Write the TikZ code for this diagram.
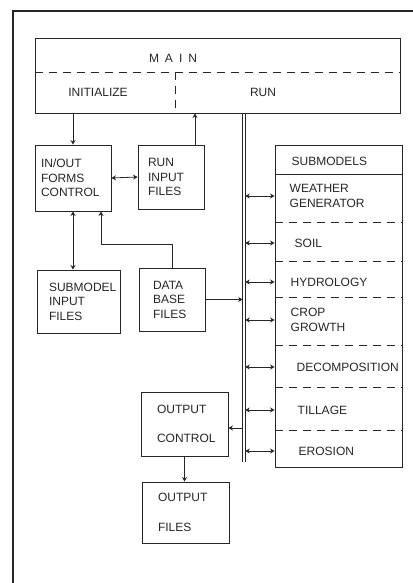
\documentclass[tikz,border=0pt]{standalone}
\usepackage{fontspec}
\setmainfont{Liberation Sans}
\usetikzlibrary{arrows.meta}

\begin{document}
\begin{tikzpicture}[x=1pt, y=-1pt, font=\fontsize{12}{14.5}\selectfont, color=black!85,
  box/.style={draw, line width=0.9pt, align=left, inner xsep=#1, minimum height=64pt, text width=56pt},
  box/.default=8pt, item/.style={anchor=west, align=left},
  sep/.style={dashed, dash pattern=on 8pt off 6pt, line width=0.8pt},
  >={Stealth[length=4.5pt, width=5pt]}, line width=0.8pt]
\useasboundingbox (0,0) rectangle (412,583);
\draw[line width=2.5pt] (13,590) -- (13,11) -- (420,11);
% main program
\node[draw, line width=0.9pt, minimum width=365pt, minimum height=75pt] (main) at (217.5,75.5) {};
\node (mainlbl) at (173,58) {M\hspace{6pt}A\hspace{6pt}I\hspace{6pt}N};
\node (init) at (98,92) {INITIALIZE};
\node (run) at (263,92) {RUN};
\coordinate (split) at (175,72);
\draw[sep] (split -| main.west) -- (split -| main.east);
\draw[sep] (split) -- (split |- main.south);
% files and control boxes
\node[box=6pt, text width=64pt, minimum height=66pt] (inout) at (73,178) {IN/OUT\\FORMS\\CONTROL};
\node[box=10pt, text width=46pt] (runinput) at (171,177) {RUN\\INPUT\\FILES};
\node[box=12pt, text width=59pt, minimum height=63pt] (subinput) at (78.5,301.5) {SUBMODEL\\INPUT\\FILES};
\node[box=14pt, text width=38pt, minimum height=63pt] (database) at (172,299.5) {DATA\\BASE\\FILES};
\node[box=16pt, text width=55pt] (outctrl) at (184.5,424) {OUTPUT\\[15pt]CONTROL};
\node[box=16pt, text width=55pt, minimum height=61pt] (outfiles) at (185.5,512.5) {OUTPUT\\[15pt]FILES};
% submodels
\node[draw, line width=0.9pt, minimum width=127pt, minimum height=322pt] (submodels) at (338.5,306) {};
\node[item] (sublbl) at (288,161) {SUBMODELS};
\draw[line width=0.9pt] (submodels.west |- 0,174) -- (submodels.east |- 0,174);
\foreach \y in {222,261,297,345,387,430}
  \draw[sep] (submodels.west |- 0,\y) -- (submodels.east |- 0,\y);
\node[item] (weather) at (286,196) {WEATHER\\GENERATOR};
\node[item] (soil) at (291,243) {SOIL};
\node[item] (hydro) at (287,282) {HYDROLOGY};
\node[item] (crop) at (287,320) {CROP\\GROWTH};
\node[item] (decomp) at (293,367) {DECOMPOSITION};
\node[item] (tillage) at (294,410) {TILLAGE};
\node[item] (erosion) at (295,451) {EROSION};
% bus
\coordinate (bus) at (244,113);
\coordinate (busend) at (244,462);
\draw ([xshift=-1.3pt]bus) -- ([xshift=-1.3pt]busend);
\draw ([xshift=1.3pt]bus) -- ([xshift=1.3pt]busend);
\foreach \n in {weather,soil,hydro,crop,decomp,tillage,erosion}
  \draw[<->] ([xshift=1.3pt]bus |- \n) -- (\n -| submodels.west);
% connectors
\draw[->] (inout.north |- main.south) -- (inout.north);
\draw[->] ([xshift=24pt]runinput.north) -- ([xshift=24pt]runinput.north |- main.south);
\draw[<->] (inout.east) -- (runinput.west);
\draw[<->] (inout.south) -- (inout.south |- subinput.north);
\draw[->] (database.north) |- ++(0,-23) -| ([xshift=28pt]inout.south);
\draw[->] (database.east) -- ([xshift=-1.3pt]bus |- database.east);
\draw[->] ([xshift=-1.3pt]bus |- 0,428) -- (outctrl.east |- 0,428);
\draw[->] (outctrl.south) -- (outctrl.south |- outfiles.north);
\end{tikzpicture}
\end{document}
